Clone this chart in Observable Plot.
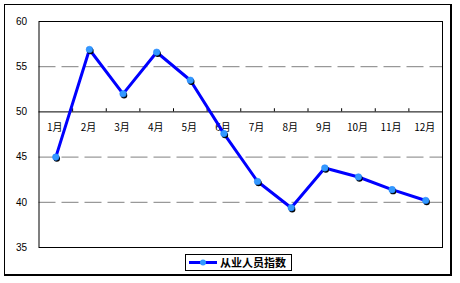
<!DOCTYPE html>
<html><head><meta charset="utf-8">
<script src="https://cdn.jsdelivr.net/npm/d3@7"></script>
<script src="https://cdn.jsdelivr.net/npm/@observablehq/plot@0.6"></script>
<style>
html,body{margin:0;padding:0;background:#fff;}
#wrap{position:relative;width:460px;height:283px;overflow:hidden;}
#border{position:absolute;left:4px;top:4px;width:448px;height:272px;border:1px solid #000;border-right-width:2px;border-bottom-width:2px;box-sizing:border-box;pointer-events:none;}
#legend{position:absolute;left:185px;top:254px;width:107px;height:17px;border:1px solid #000;box-sizing:border-box;background:#fff;display:flex;align-items:center;}
#legend svg{display:block;}
#legend span{font-family:"Noto Sans CJK SC";font-size:11px;font-weight:bold;color:#000;margin-left:2px;line-height:15px;}
</style></head>
<body><div id="wrap"></div>
<script>
const months = ["1月","2月","3月","4月","5月","6月","7月","8月","9月","10月","11月","12月"];
const values = [45.0, 56.9, 52.0, 56.6, 53.5, 47.6, 42.3, 39.4, 43.8, 42.8, 41.4, 40.2];
const yTicks = [35, 40, 45, 50, 55, 60];
const dashedLines = [40, 45, 55];
const seriesName = "从业人员指数";

const data = months.map((m, i) => ({month: m, value: values[i]}));
const W = 460, H = 283, mL = 38.5, mR = 18, mT = 21, mB = 36;
const bw = (W - mL - mR) / months.length;

const chart = Plot.plot({
  width: W, height: H,
  marginLeft: mL, marginRight: mR, marginTop: mT, marginBottom: mB,
  style: {fontFamily: "Liberation Sans, Arial, sans-serif", fontSize: "10px", background: "transparent"},
  x: {type: "band", domain: months, padding: 0, round: false, axis: null},
  y: {domain: [35, 60], axis: null},
  marks: [
    Plot.ruleY(dashedLines, {stroke: "#808080", strokeWidth: 1, strokeDasharray: "17,6"}),
    Plot.ruleY([50], {stroke: "#000", strokeWidth: 1}),
    Plot.ruleX(months.slice(1), {x: d => d, y1: 50, y2: 50.35, dx: -bw / 2, stroke: "#000"}),
    Plot.frame({stroke: "#000", strokeWidth: 1}),
    Plot.text(yTicks, {x: () => months[0], y: d => d, text: d => String(d), textAnchor: "end", dx: -bw / 2 - 12, fill: "#000", fontSize: 10}),
    Plot.text(months, {x: d => d, y: () => 50, text: d => d, dy: 16, dx: -1, fill: "#000", fontSize: 10, fontFamily: "Noto Sans CJK SC"}),
    Plot.line(data, {x: "month", y: "value", stroke: "#0000ff", strokeWidth: 3}),
    Plot.dot(data, {x: "month", y: "value", r: 3.2, fill: "#000", dx: 1, dy: 1.5}),
    Plot.dot(data, {x: "month", y: "value", r: 3.3, fill: "#3399ff", stroke: "#1a7fff", strokeWidth: 0.5})
  ]
});

const wrap = document.getElementById("wrap");
wrap.appendChild(chart);
const border = document.createElement("div");
border.id = "border";
wrap.appendChild(border);

const legend = document.createElement("div");
legend.id = "legend";
const ls = d3.create("svg").attr("width", 32).attr("height", 15);
ls.append("line").attr("x1", 3).attr("x2", 31).attr("y1", 7.5).attr("y2", 7.5).attr("stroke", "#0000ff").attr("stroke-width", 3);
ls.append("circle").attr("cx", 17).attr("cy", 7.5).attr("r", 3).attr("fill", "#3399ff");
legend.appendChild(ls.node());
const sp = document.createElement("span");
sp.textContent = seriesName;
legend.appendChild(sp);
wrap.appendChild(legend);
</script>
</body></html>
